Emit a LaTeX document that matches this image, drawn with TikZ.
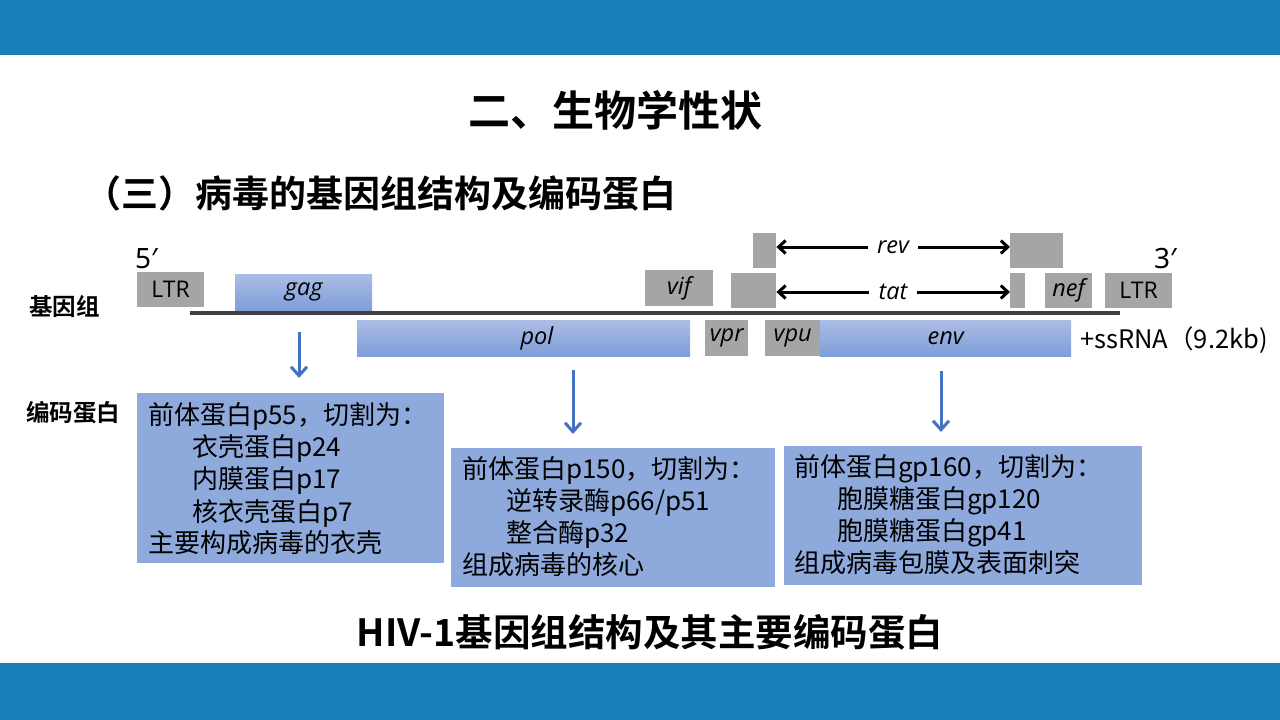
\documentclass[tikz,border=0pt]{standalone}
\usepackage{fontspec}
\setmainfont{Noto Sans CJK SC}[BoldFont={Noto Sans CJK SC Bold}]
\newfontfamily\genef{Open Sans}
\newfontfamily\primef{Noto Sans}
\usetikzlibrary{arrows.meta}
\definecolor{hdr}{RGB}{23,126,185}
\definecolor{boxblue}{RGB}{142,169,219}
\definecolor{gtop}{RGB}{171,189,230}
\definecolor{gbot}{RGB}{126,157,216}
\definecolor{genegray}{RGB}{165,165,165}
\definecolor{arrblue}{RGB}{68,114,196}
\definecolor{dnaline}{RGB}{64,64,64}
\begin{document}
\begin{tikzpicture}[x=1bp,y=-1bp,
  graybox/.style={fill=genegray,draw=none,inner sep=0,anchor=north west,
    font=\genef\itshape\fontsize{23.5bp}{25bp}\selectfont},
  bluebox/.style={top color=gtop,bottom color=gbot,draw=none,inner sep=0,anchor=north west,
    font=\genef\itshape\fontsize{23.5bp}{25bp}\selectfont},
  ltrbox/.style={graybox,font=\genef\fontsize{23bp}{25bp}\selectfont},
  protbox/.style={fill=boxblue,draw=none,inner sep=0,anchor=north west},
  boxline/.style={anchor=base west,inner sep=0,font=\fontsize{26bp}{28bp}\selectfont},
  sidelabel/.style={anchor=west,inner sep=0,font=\bfseries\fontsize{23.5bp}{25bp}\selectfont},
  splicelbl/.style={inner xsep=9bp,inner ysep=0,font=\genef\itshape\fontsize{23.5bp}{25bp}\selectfont},
  splicearr/.style={-{Straight Barb[length=7bp,width=13bp]},line width=3bp,black},
  downarr/.style={-{Straight Barb[length=9bp,width=16bp]},line width=3bp,arrblue},
  primelbl/.style={anchor=base west,inner sep=0,font=\primef\fontsize{28bp}{30bp}\selectfont}
]
\useasboundingbox (0,0) rectangle (1280,720);
% bars
\fill[hdr] (0,0) rectangle (1280,55);
\fill[hdr] (0,663) rectangle (1280,720);

% titles
\node[inner sep=0,font=\bfseries\fontsize{42bp}{46bp}\selectfont] (title) at (615,110) {二、生物学性状};
\node[anchor=west,inner sep=0,font=\bfseries\fontsize{37bp}{40bp}\selectfont] (subtitle) at (84,193) {（三）病毒的基因组结构及编码蛋白};
\node[inner sep=0,font=\bfseries\fontsize{37.5bp}{40bp}\selectfont] (caption) at (650,632) {HIV-1基因组结构及其主要编码蛋白};

% side labels
\node[sidelabel] (genomelbl) at (29,307) {基因组};
\node[sidelabel] (protlbl) at (26,413) {编码蛋白};

% primes
\node[primelbl] (five) at (135,268) {5′};
\node[primelbl] (three) at (1154,268) {3′};

% genome line
\coordinate (lineL) at (190,313);
\coordinate (lineR) at (1120,313);
\draw[dnaline,line width=4bp] (lineL) -- (lineR);

% upper genes
\node[ltrbox,minimum width=67bp,minimum height=35bp] (ltrL) at (137,272) {LTR};
\node[bluebox,minimum width=137bp,minimum height=36bp] (gag) at (235,274) {gag};
\node[graybox,minimum width=68bp,minimum height=36bp] (vif) at (645,270) {vif};
\node[graybox,minimum width=23bp,minimum height=35bp] (revL) at (753,233) {};
\node[graybox,minimum width=45bp,minimum height=35bp] (tatL) at (731,273) {};
\node[graybox,minimum width=53bp,minimum height=35bp] (revR) at (1010,233) {};
\node[graybox,minimum width=15bp,minimum height=35bp] (tatR) at (1010,273) {};
\node[graybox,minimum width=47bp,minimum height=35bp] (nef) at (1045,273) {nef};
\node[ltrbox,minimum width=67bp,minimum height=35bp] (ltrR) at (1105,273) {LTR};

% lower genes
\node[bluebox,minimum width=333bp,minimum height=36bp] (pol) at (357,320) {};
\node[inner sep=0,font=\genef\itshape\fontsize{23.5bp}{25bp}\selectfont] (poltxt) at (537,338) {pol};
\node[graybox,minimum width=43bp,minimum height=36bp] (vpr) at (705,320) {vpr};
\node[bluebox,minimum width=251bp,minimum height=36bp] (env) at (820,320) {env};
\node[graybox,minimum width=55bp,minimum height=36bp] (vpu) at (765,320) {vpu};
\node[anchor=west,inner sep=0,font=\fontsize{25.5bp}{27bp}\selectfont] (ssrna) at (1080,340) {+ssRNA（9.2kb)};

% rev / tat
\node[splicelbl] (revlbl) at (893,247) {rev};
\node[splicelbl] (tatlbl) at (893,292) {tat};
\draw[splicearr] (revlbl.west) -- (revL.east |- revlbl.west);
\draw[splicearr] (revlbl.east) -- (revR.west |- revlbl.east);
\draw[splicearr] (tatlbl.west) -- (tatL.east |- tatlbl.west);
\draw[splicearr] (tatlbl.east) -- (tatR.west |- tatlbl.east);

% protein boxes
\node[protbox,minimum width=307bp,minimum height=170bp] (b1) at (137,393) {};
\node[protbox,minimum width=324bp,minimum height=139bp] (b2) at (451,448) {};
\node[protbox,minimum width=358bp,minimum height=139bp] (b3) at (784,446) {};

\node[boxline] (b1l1) at (148,424) {前体蛋白p55，切割为：};
\node[boxline] (b1l2) at (192,456) {衣壳蛋白p24};
\node[boxline] (b1l3) at (192,488) {内膜蛋白p17};
\node[boxline] (b1l4) at (192,521) {核衣壳蛋白p7};
\node[boxline] (b1l5) at (148,552) {主要构成病毒的衣壳};

\node[boxline] (b2l1) at (462,478) {前体蛋白p150，切割为：};
\node[boxline] (b2l2) at (506,510) {逆转录酶p66/p51};
\node[boxline] (b2l3) at (506,542) {整合酶p32};
\node[boxline] (b2l4) at (462,574) {组成病毒的核心};

\node[boxline] (b3l1) at (794,476) {前体蛋白gp160，切割为：};
\node[boxline] (b3l2) at (837,508) {胞膜糖蛋白gp120};
\node[boxline] (b3l3) at (837,540) {胞膜糖蛋白gp41};
\node[boxline] (b3l4) at (794,572) {组成病毒包膜及表面刺突};

% down arrows
\coordinate (a1s) at (299,332); \coordinate (a1e) at (299,378);
\coordinate (a2s) at (573,370); \coordinate (a2e) at (573,434);
\coordinate (a3s) at (941,371); \coordinate (a3e) at (941,432);
\draw[downarr] (a1s) -- (a1e);
\draw[downarr] (a2s) -- (a2e);
\draw[downarr] (a3s) -- (a3e);
\end{tikzpicture}
\end{document}
